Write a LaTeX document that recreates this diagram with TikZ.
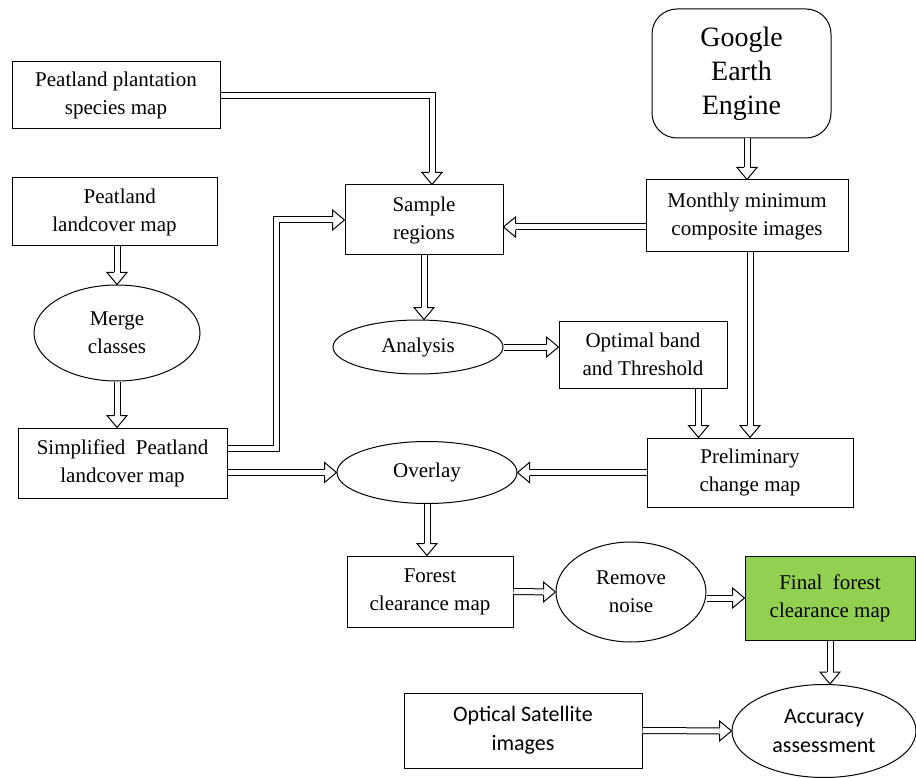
\documentclass[tikz,border=0pt]{standalone}
\usepackage{fontspec}
\setmainfont{Liberation Serif}
\newfontfamily\calib{Carlito}
\usetikzlibrary{shapes.geometric,calc}
\definecolor{fgreen}{HTML}{92D050}
\tikzset{
  box/.style={draw, line width=1pt, align=center, inner sep=0pt, font=\fontsize{21}{28}\selectfont},
  oval/.style={box, ellipse},
  sansbox/.style={font=\calib\fontsize{22}{29}\selectfont},
  shaft/.style={draw, line width=1pt, double=white, double distance=5pt, shorten >=12pt},
  hd/.pic={\draw[line width=1pt, fill=white, line join=miter] (-12,3) -- (-12,10) -- (0,0) -- (-12,-10) -- (-12,-3);}
}
\begin{document}
\begin{tikzpicture}[x=1pt,y=-1pt]
\useasboundingbox (0,0) rectangle (916,778);
% nodes
\node[box, minimum width=208pt, minimum height=67pt] (plant) at (116,95.5) {Peatland plantation\\species map};
\node[box, minimum width=205pt, minimum height=68pt] (land) at (114.5,212) {\ \ Peatland\\landcover map};
\node[oval, minimum width=166pt, minimum height=96pt] (merge) at (117,333) {Merge\\classes};
\node[box, minimum width=209pt, minimum height=70pt] (simp) at (122.5,463) {Simplified\ \ Peatland\\landcover map};
\node[box, minimum width=158pt, minimum height=70pt] (sample) at (424,220) {Sample\\regions};
\node[box, minimum width=202pt, minimum height=72pt] (monthly) at (747,216) {Monthly minimum\\composite images};
\node[box, rounded corners=25pt, minimum width=179pt, minimum height=129pt, font=\fontsize{28}{34}\selectfont] (google) at (741.5,73.5) {Google\\Earth\\Engine};
\node[oval, minimum width=170pt, minimum height=54pt] (analysis) at (418,347) {Analysis};
\node[box, minimum width=168pt, minimum height=67pt] (optimal) at (643,354.5) {Optimal band\\and Threshold};
\node[box, minimum width=206pt, minimum height=69pt] (prelim) at (750,472.5) {Preliminary\\change map};
\node[oval, minimum width=180pt, minimum height=62pt] (overlay) at (427,472.5) {Overlay};
\node[box, minimum width=166pt, minimum height=71pt] (forest) at (430,591.5) {Forest\\clearance map};
\node[oval, minimum width=150pt, minimum height=100pt] (noise) at (631,592) {Remove\\noise};
\node[box, fill=fgreen, minimum width=170pt, minimum height=84pt] (final) at (830,598) {Final\ \ forest\\clearance map};
\node[box, sansbox, minimum width=238pt, minimum height=75pt] (optical) at (523,730.5) {Optical Satellite\\images};
\node[oval, sansbox, minimum width=184pt, minimum height=93pt] (acc) at (824,731) {Accuracy\\assessment};
% connectors
\coordinate (s1) at ($(sample.north)+(8,0)$);
\draw[shaft] (plant.east) -| (s1);
\pic[rotate=-90] at (s1) {hd};

\coordinate (m1) at (merge.north |- land.south);
\draw[shaft] (m1) -- (merge.north);
\pic[rotate=-90] at (merge.north) {hd};

\coordinate (m2) at (merge.south |- simp.north);
\draw[shaft] (merge.south) -- (m2);
\pic[rotate=-90] at (m2) {hd};

\draw[shaft] ($(simp.east)+(0,-15)$) -| ($(sample.west)+(-68,0)$) -- (sample.west);
\pic at (sample.west) {hd};

\coordinate (o1) at (overlay.west -| simp.east);
\draw[shaft] (o1) -- (overlay.west);
\pic at (overlay.west) {hd};

\coordinate (m3) at ($(sample.east)+(0,7)$);
\draw[shaft] (m3 -| monthly.west) -- (m3);
\pic[rotate=180] at (m3) {hd};

\coordinate (g1) at (monthly.north |- google.south);
\draw[shaft] (g1) -- (monthly.north);
\pic[rotate=-90] at (monthly.north) {hd};

\coordinate (a1) at (sample.south |- analysis.north);
\draw[shaft] (sample.south) -- (a1);
\pic[rotate=-90] at (a1) {hd};

\coordinate (a2) at (analysis.east -| optimal.west);
\draw[shaft] (analysis.east) -- (a2);
\pic at (a2) {hd};

\coordinate (p0) at ($(optimal.south east)+(-29,0)$);
\coordinate (p1) at (p0 |- prelim.north);
\draw[shaft] (p0) -- (p1);
\pic[rotate=-90] at (p1) {hd};

\coordinate (p2) at (prelim.north |- monthly.south);
\draw[shaft] (p2) -- (prelim.north);
\pic[rotate=-90] at (prelim.north) {hd};

\draw[shaft] (prelim.west) -- (overlay.east);
\pic[rotate=180] at (overlay.east) {hd};

\coordinate (f1) at (overlay.south |- forest.north);
\draw[shaft] (overlay.south) -- (f1);
\pic[rotate=-90] at (f1) {hd};

\draw[shaft] (forest.east) -- (noise.west);
\pic at (noise.west) {hd};

\coordinate (n1) at (final.west -| noise.east);
\draw[shaft] (n1) -- (final.west);
\pic at (final.west) {hd};

\coordinate (c1) at (final.south |- acc.north);
\draw[shaft] (final.south) -- (c1);
\pic[rotate=-90] at (c1) {hd};

\draw[shaft] (optical.east) -- (acc.west);
\pic at (acc.west) {hd};
\end{tikzpicture}
\end{document}
